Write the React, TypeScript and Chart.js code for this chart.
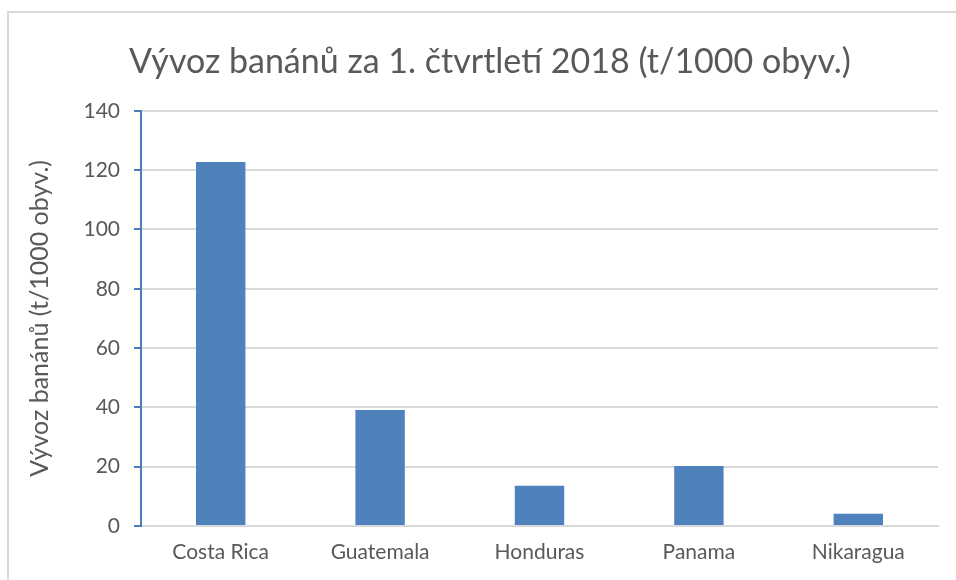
import React, { useEffect, useRef } from "react";
import { Chart, registerables } from "chart.js";

Chart.register(...registerables);

const categories = ["Costa Rica", "Guatemala", "Honduras", "Panama", "Nikaragua"];
const values = [122.7, 39.1, 13.6, 20.2, 4.1];
const yMin = 0;
const yMax = 140;
const yStep = 20;
const chartTitle = "Vývoz banánů za 1. čtvrtletí 2018 (t/1000 obyv.)";
const yAxisTitle = "Vývoz banánů (t/1000 obyv.)";

const FONT = "Lato, 'Open Sans', sans-serif";
const TEXT = "#595959";

export default function App() {
  const ref = useRef<HTMLCanvasElement | null>(null);

  useEffect(() => {
    if (!ref.current) return;
    const chart = new Chart(ref.current, {
      type: "bar",
      data: {
        labels: categories,
        datasets: [
          {
            data: values,
            backgroundColor: "#4f81bd",
            borderWidth: 0,
            barPercentage: 0.31,
            categoryPercentage: 1,
            yAxisID: "y",
          },
        ],
      },
      options: {
        responsive: false,
        animation: false,
        layout: { padding: { left: 25, right: 1, top: 0, bottom: 0 } },
        plugins: {
          legend: { display: false },
          tooltip: { enabled: false },
          title: {
            display: true,
            text: chartTitle,
            color: TEXT,
            font: { family: FONT, size: 34, weight: "normal", lineHeight: 1.2 },
            padding: { top: 42, bottom: 28 },
          },
        },
        scales: {
          x: {
            grid: { display: false, drawTicks: false },
            border: { display: true, color: "#d9d9d9", width: 2 },
            ticks: {
              color: TEXT,
              font: { family: FONT, size: 21 },
              padding: 14,
            },
            afterFit: (s: any) => {
              s.height = 54;
            },
          },
          y: {
            min: yMin,
            max: yMax,
            ticks: {
              stepSize: yStep,
              color: TEXT,
              font: { family: FONT, size: 21 },
              padding: 14,
            },
            grid: {
              color: "#d9d9d9",
              lineWidth: 2,
              tickColor: "#4a7ebb",
              tickLength: 7,
              drawTicks: true,
            },
            border: { display: true, color: "#4a7ebb", width: 2 },
            title: {
              display: true,
              text: yAxisTitle,
              color: TEXT,
              font: { family: FONT, size: 25 },
              padding: { top: 0, bottom: 4 },
            },
            afterFit: (s: any) => {
              s.width = 116;
            },
          },
          spacer: {
            type: "linear",
            position: "right",
            display: true,
            ticks: { display: false },
            grid: { display: false, drawTicks: false },
            border: { display: false },
            afterFit: (s: any) => {
              s.width = 17;
            },
          },
        },
      },
    });
    return () => chart.destroy();
  }, []);

  return (
    <div
      style={{
        position: "fixed",
        left: 0,
        top: 0,
        width: 956,
        height: 580,
        overflow: "hidden",
        background: "#fff",
      }}
    >
      <div
        style={{
          position: "absolute",
          left: 7,
          top: 11,
          width: 1000,
          height: 1000,
          border: "2px solid #d9d9d9",
          boxSizing: "border-box",
        }}
      />
      <canvas
        ref={ref}
        width={956}
        height={580}
        style={{ position: "absolute", left: 0, top: 0, width: 956, height: 580 }}
      />
    </div>
  );
}
